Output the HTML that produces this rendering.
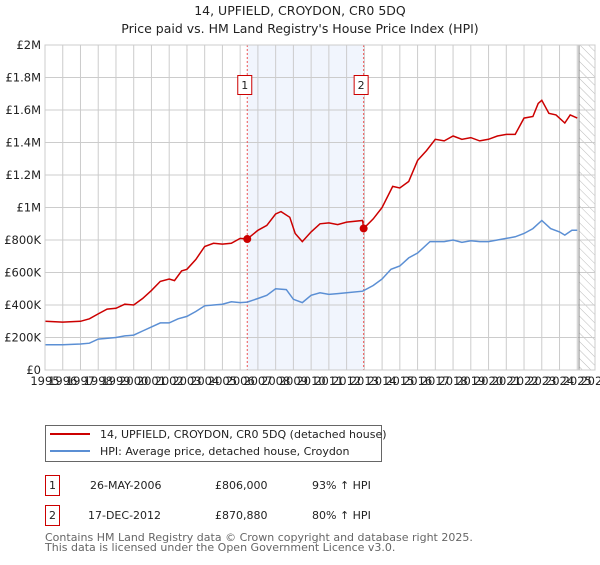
<!DOCTYPE html>
<html><head><meta charset="utf-8"><style>
body{margin:0;background:#fff;font-family:"Liberation Sans","DejaVu Sans",sans-serif;}
svg text{font-family:"DejaVu Sans","Liberation Sans",sans-serif;}
</style></head><body>
<svg id="c" width="600" height="560" xmlns="http://www.w3.org/2000/svg">
<defs><pattern id="hatch" width="6" height="6" patternUnits="userSpaceOnUse" patternTransform="rotate(-45)"><line x1="0" y1="0" x2="0" y2="6" stroke="#bbb" stroke-width="1"/></pattern></defs>
<text x="300" y="15" text-anchor="middle" font-size="12.5" fill="#222">14, UPFIELD, CROYDON, CR0 5DQ</text>
<text x="300" y="33" text-anchor="middle" font-size="12.5" fill="#222">Price paid vs. HM Land Registry's House Price Index (HPI)</text>
<g id="plot"></g>
<g>
<rect x="45.5" y="425.5" width="336" height="36" fill="#fff" stroke="#666"/>
<line x1="50" y1="434" x2="90" y2="434" stroke="#cc0000" stroke-width="2"/>
<text x="100" y="438" font-size="11" fill="#222">14, UPFIELD, CROYDON, CR0 5DQ (detached house)</text>
<line x1="50" y1="451" x2="90" y2="451" stroke="#5b8fd4" stroke-width="2"/>
<text x="100" y="455" font-size="11" fill="#222">HPI: Average price, detached house, Croydon</text>
</g>
<g font-size="11" fill="#222">
<rect x="45.5" y="475.5" width="14" height="20" fill="#fff" stroke="#cc0000"/>
<text x="52.5" y="489" text-anchor="middle">1</text>
<text x="90" y="489">26-MAY-2006</text><text x="215" y="489">£806,000</text><text x="312" y="489">93% ↑ HPI</text>
<rect x="45.5" y="505.5" width="14" height="20" fill="#fff" stroke="#cc0000"/>
<text x="52.5" y="519" text-anchor="middle">2</text>
<text x="88" y="519">17-DEC-2012</text><text x="215" y="519">£870,880</text><text x="312" y="519">80% ↑ HPI</text>
</g>
<text x="45" y="541" font-size="11" fill="#666">Contains HM Land Registry data © Crown copyright and database right 2025.</text>
<text x="45" y="551" font-size="11" fill="#666">This data is licensed under the Open Government Licence v3.0.</text>
</svg>
<script>
const yearTicks=[1995,1996,1997,1998,1999,2000,2001,2002,2003,2004,2005,2006,2007,2008,2009,2010,2011,2012,2013,2014,2015,2016,2017,2018,2019,2020,2021,2022,2023,2024,2025,2026];
const valueTicks=[0,200000,400000,600000,800000,1000000,1200000,1400000,1600000,1800000,2000000];
const valueTickLabels=["£0","£200K","£400K","£600K","£800K","£1M","£1.2M","£1.4M","£1.6M","£1.8M","£2M"];
const hpiYears=[1995,1996,1997,1997.5,1998,1999,1999.5,2000,2000.5,2001,2001.5,2002,2002.5,2003,2003.5,2004,2004.5,2005,2005.5,2006,2006.4,2007,2007.5,2008,2008.6,2009,2009.5,2010,2010.5,2011,2011.5,2012,2012.9,2013.5,2014,2014.5,2015,2015.5,2016,2016.7,2017.5,2018,2018.5,2019,2019.5,2020,2020.5,2021,2021.5,2022,2022.5,2023,2023.5,2024,2024.3,2024.7,2025];
const hpiValues=[155000,155000,160000,165000,190000,200000,210000,215000,240000,265000,290000,290000,315000,330000,360000,395000,400000,405000,420000,415000,418000,440000,460000,500000,495000,435000,415000,460000,475000,465000,470000,475000,485000,520000,560000,620000,640000,690000,720000,790000,790000,800000,785000,795000,790000,790000,800000,810000,820000,840000,870000,920000,870000,850000,830000,860000,860000];
const priceYears=[1995,1996,1997,1997.5,1998,1998.5,1999,1999.5,2000,2000.5,2001,2001.5,2002,2002.3,2002.7,2003,2003.5,2004,2004.5,2005,2005.5,2006,2006.4,2007,2007.5,2008,2008.3,2008.8,2009.1,2009.5,2010,2010.5,2011,2011.5,2012,2012.9,2012.96,2013.5,2014,2014.6,2015,2015.5,2016,2016.5,2017,2017.5,2018,2018.5,2019,2019.5,2020,2020.5,2021,2021.5,2022,2022.5,2022.8,2023,2023.4,2023.8,2024.3,2024.6,2025];
const priceValues=[300000,295000,300000,315000,345000,375000,380000,405000,400000,440000,490000,545000,560000,550000,610000,620000,680000,760000,780000,775000,780000,810000,806000,860000,890000,960000,975000,940000,840000,790000,850000,900000,905000,895000,910000,920000,871000,930000,1000000,1130000,1120000,1160000,1290000,1350000,1420000,1410000,1440000,1420000,1430000,1410000,1420000,1440000,1450000,1450000,1550000,1560000,1640000,1660000,1580000,1570000,1520000,1570000,1550000];
const saleYears=[2006.4,2012.96];
const saleValues=[806000,870880];
const saleLabels=["1","2"];

const X0=45,X1=595,Y0=370,Y1=45;
const xs=y=>X0+(y-1995)/(2026-1995)*(X1-X0);
const ys=v=>Y0-v/2000000*(Y0-Y1);
const NS="http://www.w3.org/2000/svg";
const g=document.getElementById('plot');
function mk(t,a,p){const e=document.createElementNS(NS,t);for(const k in a)e.setAttribute(k,a[k]);(p||g).appendChild(e);return e;}

const shade=mk('rect',{x:xs(saleYears[0]),y:Y1,width:xs(saleYears[1])-xs(saleYears[0]),height:Y0-Y1,fill:'#eef2fc',opacity:0.8});


const hatch=mk('rect',{x:xs(2025.1),y:Y1,width:X1-xs(2025.1),height:Y0-Y1,fill:'url(#hatch)'});



yearTicks.forEach(yr=>{
  const l=mk('line',{x1:xs(yr),x2:xs(yr),y1:Y1,y2:Y0,stroke:'#cccccc','stroke-width':1});
  
  
  const t=mk('text',{x:xs(yr),y:Y0+15,'font-size':11.5,fill:'#222','text-anchor':'middle'});
  t.textContent=yr;
  
  
});
valueTicks.forEach((v,i)=>{
  const l=mk('line',{x1:X0,x2:X1,y1:ys(v),y2:ys(v),stroke:'#cccccc','stroke-width':1});
  
  
  const t=mk('text',{x:X0-4,y:ys(v)+4,'font-size':11.5,fill:'#222','text-anchor':'end'});
  t.textContent=valueTickLabels[i];
  
  
});
const vl=mk('line',{x1:xs(2025.1),x2:xs(2025.1),y1:Y1,y2:Y0,stroke:'#888','stroke-width':1});



saleYears.forEach((yr,i)=>{
  const l=mk('line',{x1:xs(yr),x2:xs(yr),y1:Y1,y2:Y0,stroke:'#ee5555','stroke-width':1,'stroke-dasharray':'2,2'});
  
  
});

const pts=(xa,va)=>xa.map((x,i)=>xs(x).toFixed(1)+','+ys(va[i]).toFixed(1)).join(' ');
const hl=mk('polyline',{points:pts(hpiYears,hpiValues),fill:'none',stroke:'#5b8fd4','stroke-width':1.5});


const pl=mk('polyline',{points:pts(priceYears,priceValues),fill:'none',stroke:'#cc0000','stroke-width':1.5});



saleYears.forEach((yr,i)=>{
  const c=mk('circle',{cx:xs(yr),cy:ys(saleValues[i]),r:4,fill:'#cc0000'});
  
  
  const bx=xs(yr)-10;
  const r=mk('rect',{x:bx+0.5,y:75.5,width:14,height:19,fill:'#fff',stroke:'#cc0000'});
  
  
  const t=mk('text',{x:bx+7.5,y:89,'font-size':11,fill:'#222','text-anchor':'middle'});
  t.textContent=saleLabels[i];
  
  
});
const frame=mk('rect',{x:X0,y:Y1,width:X1-X0,height:Y0-Y1,fill:'none',stroke:'#cccccc'});


</script>
</body></html>
